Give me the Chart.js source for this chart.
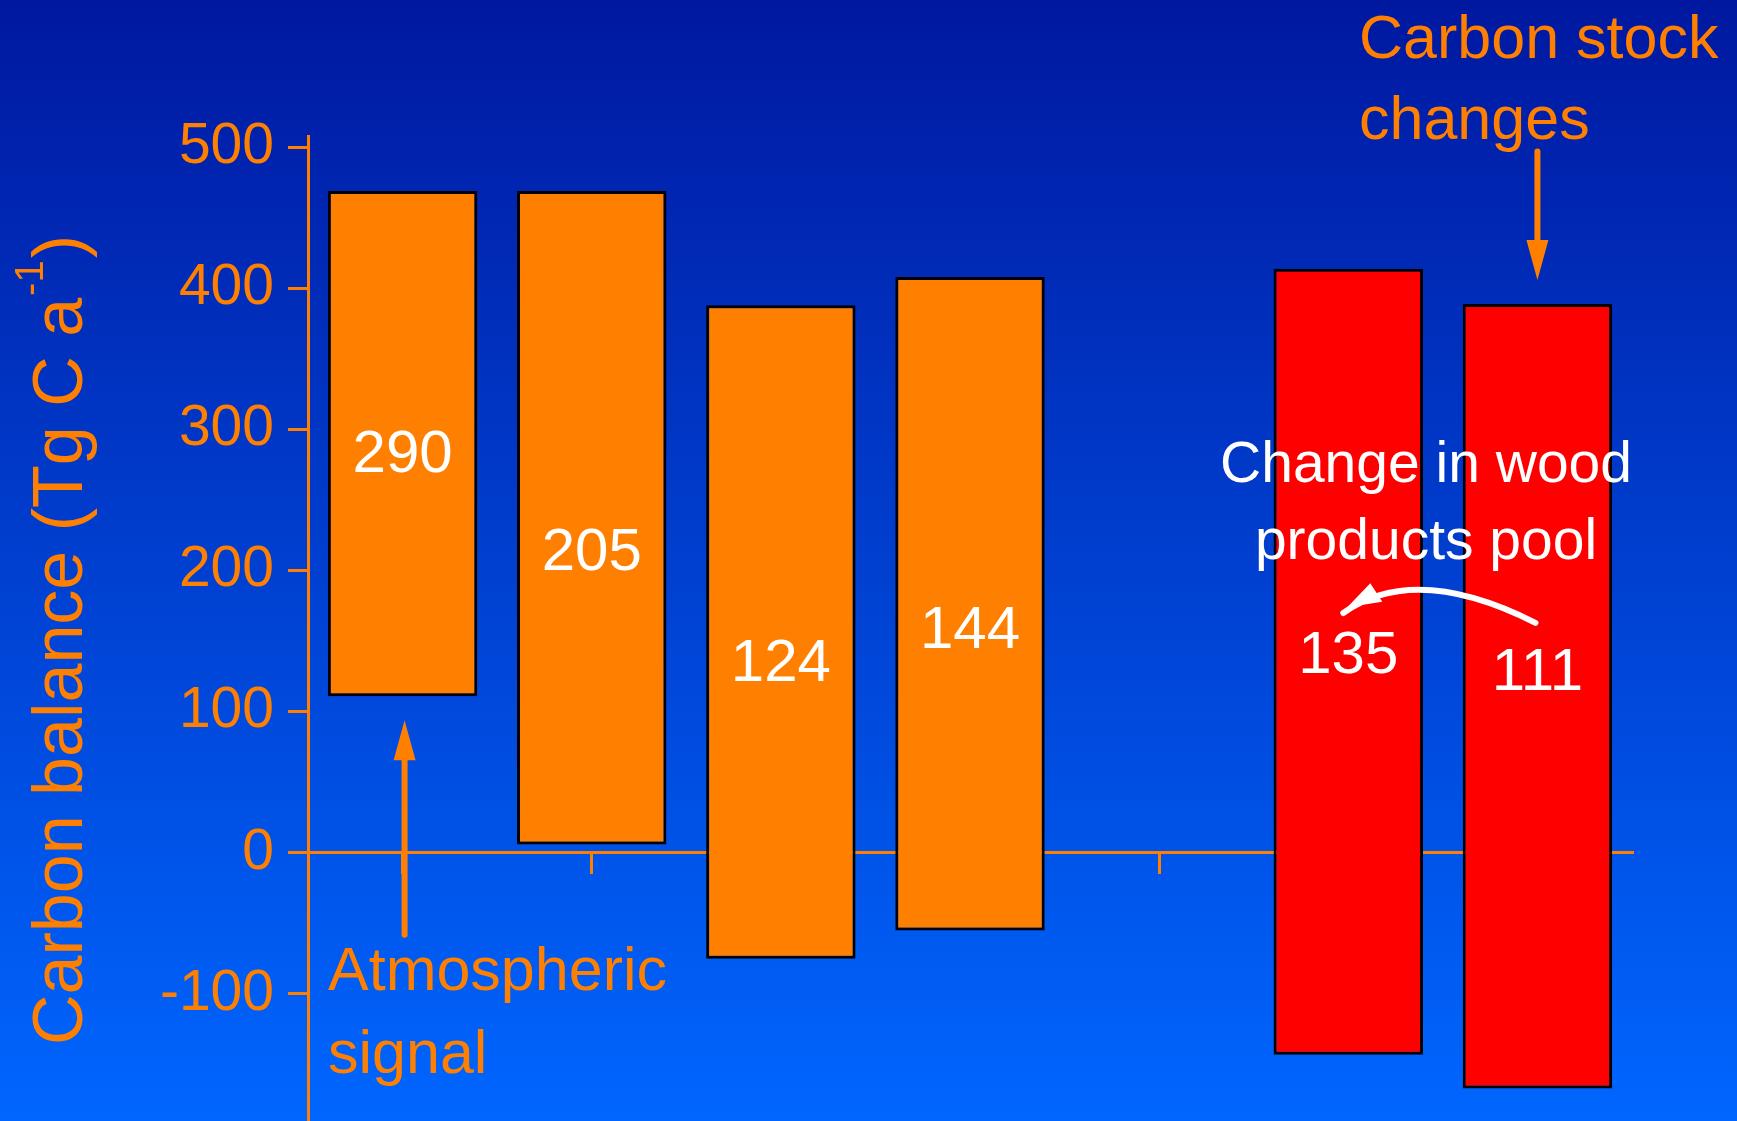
<!DOCTYPE html>
<html>
<head>
<meta charset="utf-8">
<title>Carbon balance</title>
<script src="https://cdn.jsdelivr.net/npm/chart.js@4.4.1/dist/chart.umd.min.js"></script>
<style>
  html, body { margin: 0; padding: 0; overflow: hidden; background: #0040d0; }
  #grafico { display: block; }
</style>
</head>
<body>
<canvas id="grafico" width="1737" height="1121"></canvas>
<script>
// bar slots along the axis (slot 5 is left empty in the figure)
const categories = ['1', '2', '3', '4', '5', '6', '7'];
const barLow = [111, 6, -75, -55, null, -143, -167];
const barHigh = [469, 469, 388, 408, null, 414, 389];
const barLabels = ['290', '205', '124', '144', '', '135', '111'];
const barGroup = ['atmospheric', 'atmospheric', 'atmospheric', 'atmospheric', null, 'stock', 'stock'];
const yTicks = [-100, 0, 100, 200, 300, 400, 500];

const ORANGE = '#ff8000';
const FONT = '"Liberation Sans", Arial, Helvetica, sans-serif';
const groupColors = { atmospheric: '#ff8000', stock: '#ff0000' };

// where the number inside each bar sits (in axis units)
const labelLevel = [285, 215, 137, 160, null, 142, 130];

Chart.defaults.font.family = FONT;

function drawArrow(ctx, x1, y1, x2, y2, head, halfW, color, lw) {
    const ang = Math.atan2(y2 - y1, x2 - x1);
    const bx = x2 - head * Math.cos(ang);
    const by = y2 - head * Math.sin(ang);
    ctx.strokeStyle = color;
    ctx.fillStyle = color;
    ctx.lineWidth = lw;
    ctx.lineCap = 'round';
    ctx.beginPath();
    ctx.moveTo(x1, y1);
    ctx.lineTo(bx, by);
    ctx.stroke();
    ctx.beginPath();
    ctx.moveTo(x2, y2);
    ctx.lineTo(bx + halfW * Math.sin(ang), by - halfW * Math.cos(ang));
    ctx.lineTo(bx - halfW * Math.sin(ang), by + halfW * Math.cos(ang));
    ctx.closePath();
    ctx.fill();
}

const background = {
    id: 'background',
    beforeDraw(chart) {
        const { ctx, width, height } = chart;
        const g = ctx.createLinearGradient(0, 0, 0, height);
        g.addColorStop(0, '#0018a0');
        g.addColorStop(1, '#0066ff');
        ctx.save();
        ctx.fillStyle = g;
        ctx.fillRect(0, 0, width, height);
        ctx.restore();
    }
};

const annotations = {
    id: 'annotations',
    afterDraw(chart) {
        const ctx = chart.ctx;
        const meta = chart.getDatasetMeta(0);
        const yScale = chart.scales.y;
        const bx = i => meta.data[i].x;
        const py = v => yScale.getPixelForValue(v);

        ctx.save();

        // numbers inside the bars
        ctx.fillStyle = '#ffffff';
        ctx.font = '60px ' + FONT;
        ctx.textAlign = 'center';
        ctx.textBaseline = 'alphabetic';
        barLabels.forEach((txt, i) => {
            if (!txt) return;
            ctx.fillText(txt, bx(i), py(labelLevel[i]) + 21);
        });

        // y axis title with superscript
        ctx.save();
        ctx.translate(82, 1045);
        ctx.rotate(-Math.PI / 2);
        ctx.fillStyle = ORANGE;
        ctx.textAlign = 'left';
        ctx.font = '70px ' + FONT;
        const main = 'Carbon balance (Tg C a';
        ctx.fillText(main, 0, 0);
        let w = ctx.measureText(main).width + 2;
        ctx.font = '40px ' + FONT;
        ctx.fillText('-1', w, -39);
        w += ctx.measureText('-1').width + 2;
        ctx.font = '70px ' + FONT;
        ctx.fillText(')', w, 0);
        ctx.restore();

        // atmospheric signal
        ctx.fillStyle = ORANGE;
        ctx.font = '61px ' + FONT;
        ctx.textAlign = 'left';
        ctx.fillText('Atmospheric', 328, 990);
        ctx.fillText('signal', 328, 1073);
        drawArrow(ctx, bx(0) + 2, py(-58), bx(0) + 2, py(94), 40, 11, ORANGE, 6);

        // carbon stock changes
        ctx.fillText('Carbon stock', 1359, 58);
        ctx.fillText('changes', 1359, 139);
        drawArrow(ctx, bx(6), py(497), bx(6), py(406), 40, 11, ORANGE, 6);

        // wood products pool
        ctx.fillStyle = '#ffffff';
        ctx.font = '57px ' + FONT;
        ctx.textAlign = 'center';
        ctx.fillText('Change in wood', 1426, 482);
        ctx.fillText('products pool', 1426, 559);

        const x5 = bx(5);
        ctx.strokeStyle = '#ffffff';
        ctx.lineWidth = 6;
        ctx.lineCap = 'round';
        ctx.beginPath();
        ctx.moveTo(bx(6) - 2, py(163));
        ctx.quadraticCurveTo(x5 + 67, py(206), x5 - 5, py(170));
        ctx.stroke();
        ctx.fillStyle = '#ffffff';
        ctx.beginPath();
        ctx.moveTo(x5 - 1, py(174));
        ctx.lineTo(x5 + 22, py(191));
        ctx.lineTo(x5 + 34, py(178));
        ctx.closePath();
        ctx.fill();

        ctx.restore();
    }
};

function desenharGrafico() {
    const ctx = document.getElementById('grafico').getContext('2d');
    const floating = barLow.map((lo, i) => (lo === null ? null : [lo, barHigh[i]]));

    new Chart(ctx, {
        type: 'bar',
        data: {
            labels: categories,
            datasets: [{
                data: floating,
                backgroundColor: barGroup.map(g => (g ? groupColors[g] : 'transparent')),
                borderColor: '#000000',
                borderWidth: 3,
                borderSkipped: false,
                categoryPercentage: 1,
                barPercentage: 0.79
            }]
        },
        options: {
            responsive: false,
            animation: false,
            layout: { padding: { top: 136, right: 105, bottom: 0, left: 0 } },
            plugins: {
                legend: { display: false },
                tooltip: { enabled: false }
            },
            scales: {
                x: {
                    position: { y: 0 },
                    z: 1,
                    offset: true,
                    afterFit(scale) {
                        scale.height = 0;
                        scale.paddingLeft = 0;
                        scale.paddingRight = 0;
                    },
                    ticks: { display: false },
                    grid: {
                        offset: false,
                        drawOnChartArea: false,
                        color: ORANGE,
                        lineWidth: 3,
                        tickLength: 20,
                        tickWidth: 3
                    },
                    border: { color: ORANGE, width: 3 }
                },
                y: {
                    min: -190,
                    max: 508,
                    afterFit(scale) {
                        scale.width = 308;
                        scale.paddingTop = 0;
                        scale.paddingBottom = 0;
                    },
                    afterBuildTicks(scale) { scale.ticks = yTicks.map(v => ({ value: v })); },
                    ticks: {
                        color: ORANGE,
                        font: { size: 57 },
                        padding: 14
                    },
                    grid: {
                        drawOnChartArea: false,
                        color: ORANGE,
                        lineWidth: 3,
                        tickLength: 20,
                        tickWidth: 3
                    },
                    border: { color: ORANGE, width: 3 }
                }
            }
        },
        plugins: [background, annotations]
    });
}

desenharGrafico();
</script>
</body>
</html>
